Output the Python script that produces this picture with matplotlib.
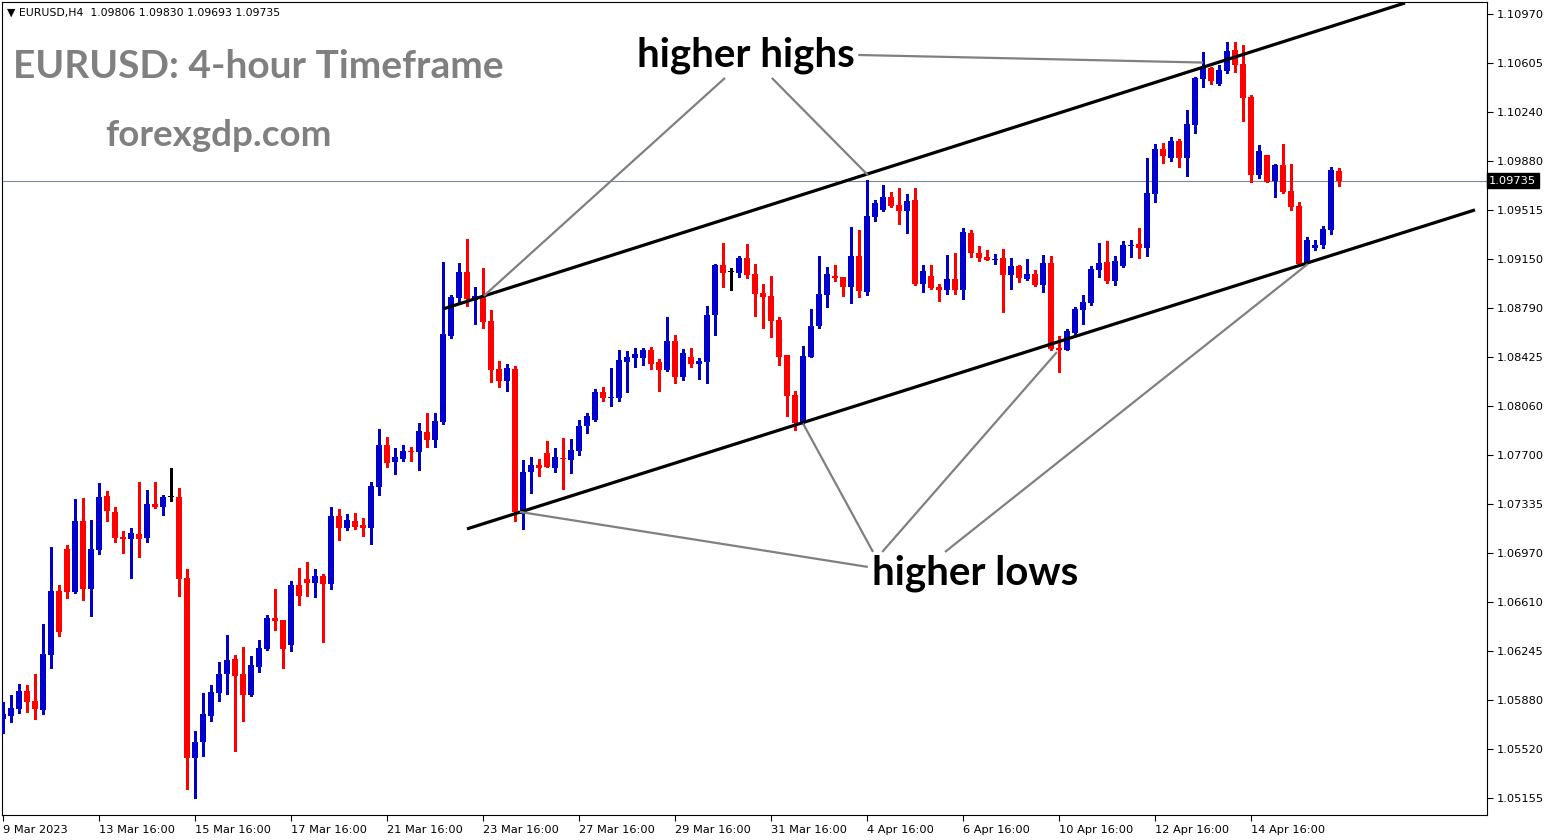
import matplotlib
matplotlib.use("Agg")
import matplotlib.pyplot as plt
import matplotlib.transforms as mtransforms
import numpy as np


# EURUSD H4 candles, 9 Mar 16:00 .. 17 Apr 2023
opens = [
    1.05741, 1.05763, 1.05815, 1.05949, 1.05875, 1.05808, 1.06216, 1.06691, 1.07003, 1.06684, 1.07210, 1.06706,
    1.06995, 1.07396, 1.07277, 1.07092, 1.07077, 1.07114, 1.07084, 1.07336, 1.07314, 1.07388, 1.07388, 1.06787,
    1.05452, 1.05570, 1.05763, 1.05934, 1.06075, 1.06187, 1.06075, 1.05919, 1.06127, 1.06261, 1.06490, 1.06475,
    1.06290, 1.06735, 1.06780, 1.06750, 1.06802, 1.06743, 1.07247, 1.07158, 1.07210, 1.07181, 1.07158, 1.07462,
    1.07773, 1.07647, 1.07669, 1.07729, 1.07721, 1.07870, 1.07810, 1.07944, 1.08582, 1.08864, 1.09057, 1.08849,
    1.08879, 1.08693, 1.08337, 1.08248, 1.08337, 1.07262, 1.07573, 1.07625, 1.07714, 1.07603, 1.07677, 1.07662,
    1.07729, 1.07914, 1.07959, 1.08167, 1.08122, 1.08122, 1.08389, 1.08419, 1.08419, 1.08478, 1.08389, 1.08330,
    1.08545, 1.08278, 1.08426, 1.08374, 1.08389, 1.08738, 1.09109, 1.09057, 1.09049, 1.09160, 1.09042, 1.08901,
    1.08879, 1.08701, 1.08441, 1.08144, 1.07937, 1.08426, 1.08656, 1.08886, 1.09027, 1.09020, 1.08945, 1.09175,
    1.08908, 1.09465, 1.09517, 1.09613, 1.09554, 1.09509, 1.09591, 1.08968, 1.09027, 1.08945, 1.08923, 1.09005,
    1.08923, 1.09346, 1.09198, 1.09168, 1.09146, 1.09160, 1.09034, 1.09101, 1.09005, 1.09042, 1.08960, 1.09123,
    1.08493, 1.08478, 1.08604, 1.08775, 1.08826, 1.09072, 1.09131, 1.08990, 1.09101, 1.09250, 1.09264, 1.09235,
    1.09635, 1.09969, 1.09902, 1.10028, 1.09902, 1.10147, 1.10488, 1.10570, 1.10451, 1.10547, 1.10703, 1.10599,
    1.10355, 1.09776, 1.09924, 1.09731, 1.09850, 1.09657, 1.09546, 1.09123, 1.09235, 1.09257, 1.09368, 1.09806,
]
highs = [
    1.05867, 1.05919, 1.06001, 1.05993, 1.06075, 1.06446, 1.07017, 1.06735, 1.07032, 1.07373, 1.07381, 1.07218,
    1.07492, 1.07433, 1.07314, 1.07136, 1.07158, 1.07500, 1.07440, 1.07500, 1.07403, 1.07603, 1.07455, 1.06854,
    1.05652, 1.05934, 1.05993, 1.06164, 1.06365, 1.06216, 1.06275, 1.06209, 1.06327, 1.06513, 1.06706, 1.06475,
    1.06765, 1.06861, 1.06906, 1.06854, 1.06817, 1.07314, 1.07299, 1.07262, 1.07270, 1.07233, 1.07500, 1.07892,
    1.07833, 1.07751, 1.07773, 1.07758, 1.07937, 1.08011, 1.08011, 1.09131, 1.08886, 1.09123, 1.09301, 1.08945,
    1.09087, 1.08775, 1.08397, 1.08374, 1.08359, 1.07662, 1.07684, 1.07669, 1.07803, 1.07751, 1.07825, 1.07818,
    1.07959, 1.08011, 1.08189, 1.08203, 1.08344, 1.08478, 1.08471, 1.08493, 1.08493, 1.08500, 1.08411, 1.08723,
    1.08589, 1.08485, 1.08493, 1.08419, 1.08804, 1.09116, 1.09271, 1.09087, 1.09175, 1.09264, 1.09116, 1.08968,
    1.09027, 1.08723, 1.08441, 1.08174, 1.08508, 1.08782, 1.09175, 1.09094, 1.09109, 1.09020, 1.09390, 1.09368,
    1.09739, 1.09591, 1.09702, 1.09650, 1.09680, 1.09635, 1.09680, 1.09109, 1.09109, 1.08968, 1.09183, 1.09198,
    1.09383, 1.09368, 1.09250, 1.09220, 1.09190, 1.09227, 1.09160, 1.09109, 1.09153, 1.09072, 1.09183, 1.09175,
    1.08582, 1.08634, 1.08797, 1.08886, 1.09101, 1.09271, 1.09286, 1.09175, 1.09286, 1.09294, 1.09383, 1.09902,
    1.10006, 1.10013, 1.10058, 1.10043, 1.10258, 1.10503, 1.10688, 1.10577, 1.10592, 1.10762, 1.10762, 1.10740,
    1.10369, 1.09999, 1.09924, 1.09858, 1.10006, 1.09858, 1.09576, 1.09316, 1.09294, 1.09398, 1.09835, 1.09830,
]
lows = [
    1.05637, 1.05719, 1.05786, 1.05793, 1.05741, 1.05778, 1.06120, 1.06357, 1.06639, 1.06676, 1.06624, 1.06505,
    1.06966, 1.07210, 1.07055, 1.06973, 1.06787, 1.06943, 1.07055, 1.07307, 1.07255, 1.07359, 1.06654, 1.05222,
    1.05155, 1.05467, 1.05726, 1.05875, 1.05926, 1.05504, 1.05726, 1.05911, 1.06090, 1.06253, 1.06401, 1.06120,
    1.06246, 1.06587, 1.06654, 1.06646, 1.06313, 1.06706, 1.07070, 1.07144, 1.07151, 1.07099, 1.07040, 1.07403,
    1.07610, 1.07559, 1.07655, 1.07655, 1.07588, 1.07758, 1.07758, 1.07929, 1.08567, 1.08834, 1.08804, 1.08671,
    1.08641, 1.08241, 1.08203, 1.08174, 1.07210, 1.07151, 1.07418, 1.07544, 1.07610, 1.07573, 1.07447, 1.07566,
    1.07699, 1.07862, 1.07951, 1.08100, 1.08062, 1.08100, 1.08167, 1.08352, 1.08367, 1.08337, 1.08174, 1.08322,
    1.08233, 1.08256, 1.08352, 1.08263, 1.08233, 1.08589, 1.08945, 1.08923, 1.09020, 1.09012, 1.08730, 1.08641,
    1.08575, 1.08367, 1.07988, 1.07885, 1.07929, 1.08426, 1.08641, 1.08797, 1.08990, 1.08879, 1.08826, 1.08871,
    1.08886, 1.09435, 1.09509, 1.09539, 1.09413, 1.09346, 1.08960, 1.08908, 1.08930, 1.08841, 1.08893, 1.08893,
    1.08856, 1.09168, 1.09138, 1.09146, 1.09116, 1.08760, 1.08930, 1.08982, 1.08997, 1.08953, 1.08908, 1.08478,
    1.08315, 1.08478, 1.08597, 1.08671, 1.08812, 1.09020, 1.08975, 1.08960, 1.09094, 1.09168, 1.09160, 1.09175,
    1.09576, 1.09865, 1.09880, 1.09835, 1.09769, 1.10088, 1.10429, 1.10451, 1.10444, 1.10533, 1.10540, 1.10177,
    1.09724, 1.09754, 1.09724, 1.09613, 1.09643, 1.09517, 1.09116, 1.09123, 1.09220, 1.09235, 1.09338, 1.09693,
]
closes = [
    1.05778, 1.05823, 1.05949, 1.05867, 1.05815, 1.06224, 1.06691, 1.06387, 1.06684, 1.07210, 1.06706, 1.07003,
    1.07388, 1.07284, 1.07084, 1.07077, 1.07121, 1.07077, 1.07336, 1.07314, 1.07388, 1.07388, 1.06780, 1.05452,
    1.05570, 1.05778, 1.05941, 1.06075, 1.06179, 1.06060, 1.05919, 1.06142, 1.06268, 1.06490, 1.06468, 1.06261,
    1.06735, 1.06654, 1.06750, 1.06802, 1.06743, 1.07247, 1.07158, 1.07218, 1.07166, 1.07158, 1.07470, 1.07773,
    1.07640, 1.07684, 1.07729, 1.07721, 1.07877, 1.07810, 1.07951, 1.08597, 1.08871, 1.09057, 1.08856, 1.08879,
    1.08686, 1.08330, 1.08248, 1.08344, 1.07277, 1.07573, 1.07625, 1.07603, 1.07610, 1.07684, 1.07669, 1.07736,
    1.07914, 1.07988, 1.08167, 1.08122, 1.08129, 1.08404, 1.08426, 1.08448, 1.08478, 1.08374, 1.08330, 1.08545,
    1.08278, 1.08456, 1.08374, 1.08397, 1.08738, 1.09109, 1.09049, 1.09057, 1.09160, 1.09034, 1.08893, 1.08871,
    1.08693, 1.08426, 1.08137, 1.07937, 1.08434, 1.08656, 1.08893, 1.09042, 1.09012, 1.08945, 1.09175, 1.08916,
    1.09472, 1.09569, 1.09613, 1.09546, 1.09509, 1.09583, 1.08968, 1.09064, 1.08938, 1.08923, 1.09005, 1.08923,
    1.09353, 1.09198, 1.09160, 1.09146, 1.09153, 1.09034, 1.09101, 1.09012, 1.09042, 1.08960, 1.09123, 1.08485,
    1.08478, 1.08619, 1.08782, 1.08834, 1.09079, 1.09123, 1.08990, 1.09138, 1.09257, 1.09257, 1.09235, 1.09643,
    1.09969, 1.09917, 1.10028, 1.09902, 1.10154, 1.10496, 1.10577, 1.10473, 1.10555, 1.10696, 1.10592, 1.10347,
    1.09776, 1.09954, 1.09724, 1.09850, 1.09650, 1.09539, 1.09116, 1.09294, 1.09257, 1.09376, 1.09813, 1.09735,
]

date_labels = ["9 Mar 2023", "13 Mar 16:00", "15 Mar 16:00", "17 Mar 16:00", "21 Mar 16:00",
               "23 Mar 16:00", "27 Mar 16:00", "29 Mar 16:00", "31 Mar 16:00", "4 Apr 16:00",
               "6 Apr 16:00", "10 Apr 16:00", "12 Apr 16:00", "14 Apr 16:00"]
LABEL_STEP = 12  # one label every 2 days of H4 bars

price_ticks = [1.10970, 1.10605, 1.10240, 1.09880, 1.09515, 1.09150, 1.08790, 1.08425, 1.08060,
               1.07700, 1.07335, 1.06970, 1.06610, 1.06245, 1.05880, 1.05520, 1.05155]
last_price = 1.09735
header = "EURUSD,H4  1.09806 1.09830 1.09693 1.09735"

# channel trendlines: (bar index, price) end points
upper_channel = [(55.0, 1.08782), (175.25, 1.11052)]
lower_channel = [(58.0, 1.07151), (184.0, 1.09517)]

# callout lines from the labels to the swing points
highs_pointers = [
    [(106.9, 1.10666), (150.0, 1.10610)],
    [(90.25, 1.10496), (60.1, 1.08879)],
    [(96.1, 1.10496), (108.1, 1.09776)],
]
lows_pointers = [
    [(108.1, 1.06869), (64.6, 1.07277)],
    [(108.75, 1.06980), (100.0, 1.07933)],
    [(109.9, 1.06980), (131.75, 1.08463)],
    [(117.75, 1.06980), (163.1, 1.09116)],
]

BULL = "#0000CD"
BEAR = "#FF0000"
GRAY = "#808080"
W, H = 1550, 840

fig = plt.figure(figsize=(W / 100, H / 100), dpi=100)
fig.patch.set_facecolor("white")
ax = fig.add_axes([2 / W, 25 / H, 1485 / W, 813 / H])

o = np.array(opens)
hi = np.array(highs)
lo = np.array(lows)
c = np.array(closes)
x = np.arange(len(o))
colors = np.where(c > o, BULL, np.where(c < o, BEAR, "black"))

ax.vlines(x, lo, hi, colors=colors, lw=0.8, antialiased=False, zorder=3)
body_h = np.maximum(np.abs(c - o), 0.00008)
ax.bar(x, body_h, bottom=np.minimum(o, c), width=0.64, color=colors,
       linewidth=0, antialiased=False, zorder=3)

ax.axhline(last_price, color="#778899", lw=0.8, zorder=1)

for pts in (upper_channel, lower_channel):
    ax.plot([p[0] for p in pts], [p[1] for p in pts], color="black", lw=2.3,
            solid_capstyle="butt", zorder=4)
for pts in highs_pointers + lows_pointers:
    ax.plot([p[0] for p in pts], [p[1] for p in pts], color=GRAY, lw=1.6,
            solid_capstyle="butt", zorder=4)

ax.set_xlim(-0.125, 185.5)
ax.set_ylim(1.05029, 1.11059)

ax.yaxis.tick_right()
ax.set_yticks(price_ticks)
ax.set_yticklabels([f"{p:.5f}" for p in price_ticks])
ax.set_xticks(np.arange(len(date_labels)) * LABEL_STEP)
ax.set_xticklabels(date_labels, ha="left")
ax.tick_params(axis="y", direction="out", length=4, width=0.8, labelsize=8.2, pad=3, colors="black")
ax.tick_params(axis="x", direction="out", length=4, width=0.8, labelsize=8.2, pad=3)
for s in ax.spines.values():
    s.set_linewidth(0.8)
    s.set_color("black")

trans = mtransforms.blended_transform_factory(ax.transAxes, ax.transData)
ax.text(1.0015, last_price, f"{last_price:.5f}", transform=trans, color="white",
        fontsize=8.2, va="center", ha="left",
        bbox=dict(facecolor="black", edgecolor="black", pad=1.6))

fig.text(7 / W, 1 - 13 / H, "\u25bc " + header, fontsize=7.8, va="center", ha="left")
fig.text(13 / W, 1 - 67 / H, "EURUSD: 4-hour Timeframe", family="Lato", weight="bold",
         fontsize=28, color=GRAY, va="center", ha="left")
fig.text(105 / W, 1 - 136 / H, "forexgdp.com", family="Lato", weight="bold",
         fontsize=26.5, color=GRAY, va="center", ha="left")
fig.text(746 / W, 1 - 55 / H, "higher highs", family="Lato", weight="bold",
         fontsize=29, color="black", va="center", ha="center")
fig.text(975 / W, 1 - 573 / H, "higher lows", family="Lato", weight="bold",
         fontsize=29, color="black", va="center", ha="center")

fig.savefig("out.png", dpi=100)
